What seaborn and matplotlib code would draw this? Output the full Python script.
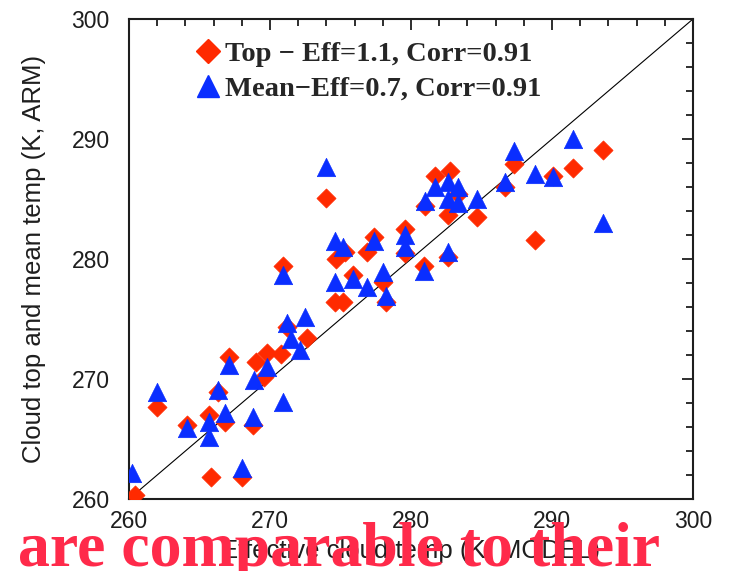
import matplotlib
matplotlib.use("Agg")
import matplotlib.pyplot as plt
import seaborn as sns
import pandas as pd
from matplotlib.ticker import MultipleLocator
from matplotlib.lines import Line2D

# Cloud-top temperature (red diamonds): model effective temp vs ARM
top_x = [260.4, 262.0, 264.1, 265.7, 265.8, 266.3, 266.8, 268.0, 267.1, 268.8,
         269.0, 269.6, 269.8, 270.8, 270.9, 271.2, 272.6, 274.0, 274.7, 275.3,
         274.6, 275.2, 275.9, 276.9, 277.4, 278.0, 278.2, 279.6, 279.6, 280.9,
         281.0, 281.7, 282.8, 282.6, 284.7, 282.6, 283.3, 286.7, 287.3, 288.8,
         290.1, 291.5, 293.6]
top_y = [260.3, 267.7, 266.2, 267.0, 261.8, 268.9, 266.4, 261.8, 271.8, 266.2,
         271.4, 270.2, 272.2, 272.1, 279.4, 274.3, 273.4, 285.1, 280.0, 280.6,
         276.4, 276.4, 278.7, 280.6, 281.8, 278.1, 276.4, 282.5, 280.5, 279.4,
         284.4, 286.9, 287.3, 283.7, 283.5, 280.2, 285.4, 286.0, 287.9, 281.6,
         286.9, 287.6, 289.1]

# Cloud mean temperature (blue triangles)
mean_x = [260.2, 262.0, 264.1, 265.7, 265.7, 266.3, 266.8, 268.0, 267.1, 268.8,
          268.9, 269.8, 270.9, 270.9, 271.2, 272.5, 271.5, 272.1, 274.0, 274.6,
          275.2, 274.6, 275.9, 276.9, 278.0, 278.2, 277.4, 279.6, 279.6, 280.9,
          281.0, 281.7, 282.6, 283.3, 282.6, 283.3, 284.7, 282.6, 286.7, 287.3,
          288.8, 290.1, 291.5, 293.6]
mean_y = [262.2, 268.9, 265.9, 266.4, 265.2, 269.1, 267.2, 262.6, 271.2, 266.8,
          269.9, 271.0, 268.1, 278.7, 274.7, 275.2, 273.3, 272.4, 287.7, 281.5,
          281.0, 278.1, 278.3, 277.7, 278.9, 276.9, 281.5, 282.0, 281.0, 279.0,
          284.8, 286.0, 286.4, 286.0, 285.0, 284.7, 285.0, 280.6, 286.4, 289.0,
          287.1, 286.8, 290.0, 283.0]

top_label = "Top \u2212 Eff=1.1, Corr=0.91"
mean_label = "Mean\u2212Eff=0.7, Corr=0.91"
x_label = "Effective cloud temp (K, MODEL)"
y_label = "Cloud top and mean temp (K, ARM)"
overlay_text = "are comparable to their"
ticks = [260, 270, 280, 290, 300]

RED = "#FF2A00"
BLUE = "#0A2EFF"
INK = "#1e1e1e"

sns.set_theme(style="white")
plt.rcParams['font.family'] = ['Liberation Sans', 'DejaVu Sans']

fig = plt.figure(figsize=(7.3, 5.71), dpi=100)
ax = fig.add_axes([129 / 730, 72 / 571, 564 / 730, 480 / 571])

ax.plot([260, 300], [260, 300], color="black", lw=0.8, zorder=1)

df_top = pd.DataFrame({"x": top_x, "y": top_y})
df_mean = pd.DataFrame({"x": mean_x, "y": mean_y})
sns.scatterplot(data=df_top, x="x", y="y", ax=ax, marker="D", s=95,
                color=RED, edgecolor=RED, linewidth=0.5, zorder=3, legend=False)
sns.scatterplot(data=df_mean, x="x", y="y", ax=ax, marker="^", s=175,
                color=BLUE, edgecolor=BLUE, linewidth=0.5, zorder=4, legend=False)

ax.set_xlim(260, 300)
ax.set_ylim(260, 300)
ax.set_xticks(ticks)
ax.set_yticks(ticks)
ax.xaxis.set_minor_locator(MultipleLocator(2))
ax.yaxis.set_minor_locator(MultipleLocator(2))
ax.tick_params(which="both", direction="in", top=True, right=True,
               color=INK, width=1.3)
ax.tick_params(which="major", length=8, labelsize=16.5, labelcolor=INK)
ax.tick_params(axis="y", which="major", pad=14)
ax.tick_params(axis="x", which="major", pad=8)
ax.tick_params(which="minor", length=5)
for sp in ax.spines.values():
    sp.set_color(INK)
    sp.set_linewidth(1.5)

ax.set_xlabel(x_label, fontsize=18.5, color=INK, labelpad=4)
ax.set_ylabel(y_label, fontsize=18.5, color=INK, labelpad=18)

handles = [
    Line2D([], [], marker="D", ls="none", color=RED, markersize=12),
    Line2D([], [], marker="^", ls="none", color=BLUE, markersize=16),
]
leg = ax.legend(handles, [top_label, mean_label], loc="upper left",
                bbox_to_anchor=(0.08, 0.995), frameon=False,
                prop={"family": "Liberation Serif", "weight": "bold", "size": 20.5},
                handletextpad=0.1, labelspacing=0.3, handlelength=1.0,
                borderaxespad=0.3)

fig.text(18 / 730, 5 / 571, overlay_text, color="#FF2A4A",
         fontsize=46, fontweight="bold", family="Liberation Serif",
         ha="left", va="baseline", zorder=10)

fig.savefig("out.png", dpi=100)
